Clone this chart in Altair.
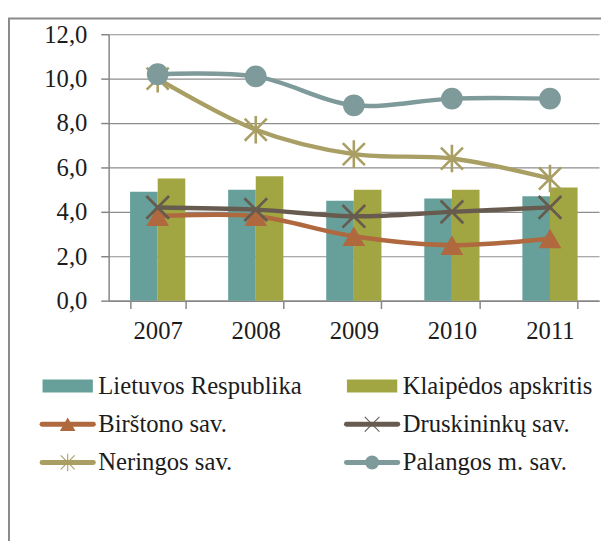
import altair as alt
import pandas as pd

# ---------------- data ----------------
years = ["2007", "2008", "2009", "2010", "2011"]
bar_series = ["Lietuvos Respublika", "Klaipėdos apskritis"]
lietuvos = [4.9, 5.0, 4.5, 4.6, 4.7]
klaipedos = [5.5, 5.6, 5.0, 5.0, 5.1]

line_series = ["Birštono sav.", "Druskininkų sav.", "Neringos sav.", "Palangos m. sav."]
birstono = [3.8, 3.8, 2.9, 2.5, 2.8]
druskininku = [4.2, 4.1, 3.8, 4.0, 4.2]
neringos = [10.0, 7.7, 6.6, 6.4, 5.5]
palangos = [10.2, 10.1, 8.8, 9.1, 9.1]

y_ticks = [0, 2, 4, 6, 8, 10, 12]

all_series = bar_series + line_series
colors = ["#67A09A", "#A2A642", "#B0683F", "#675B4F", "#A99E63", "#7E9A9B"]

FONT = "Liberation Serif"
FS = 25
TEXT = "#1c1c1c"
AXIS_GRAY = "#868686"

bar_df = pd.DataFrame({
    "year": years * 2,
    "series": [bar_series[0]] * 5 + [bar_series[1]] * 5,
    "value": lietuvos + klaipedos,
})
line_values = [birstono, druskininku, neringos, palangos]
line_df = pd.DataFrame({
    "year": years * 4,
    "series": sum([[s] * 5 for s in line_series], []),
    "value": sum(line_values, []),
})
legend_df = pd.DataFrame({
    "series": all_series,
    "col": [i % 2 for i in range(6)],
    "row": [i // 2 for i in range(6)],
    "kind": ["bar", "bar", "line", "line", "line", "line"],
})

color_scale = alt.Scale(domain=all_series, range=colors)
color_enc = alt.Color("series:N", scale=color_scale, legend=None)

x_enc = alt.X(
    "year:N", sort=years,
    scale=alt.Scale(paddingInner=0.437, paddingOuter=0.2185),
    axis=alt.Axis(title=None, labelAngle=0, tickBand="extent", tickSize=8,
                  labelPadding=10, labelFont=FONT, labelFontSize=FS,
                  labelColor=TEXT, domainColor=AXIS_GRAY, tickColor=AXIS_GRAY,
                  domainWidth=1.5, tickWidth=1.5, grid=False),
)
y_enc = alt.Y(
    "value:Q",
    scale=alt.Scale(domain=[0, 12], nice=False, zero=True),
    axis=alt.Axis(title=None, values=y_ticks, tickSize=8, labelPadding=14,
                  labelExpr="replace(format(datum.value, '.1f'), '.', ',')",
                  labelFont=FONT, labelFontSize=FS, labelColor=TEXT,
                  domainColor=AXIS_GRAY, tickColor=AXIS_GRAY, domainWidth=1.5,
                  tickWidth=1.5, grid=True, gridColor="#8E8E8E", gridWidth=1.2),
)

bars = alt.Chart(bar_df).mark_bar().encode(
    x=x_enc,
    xOffset=alt.XOffset("series:N", sort=bar_series,
                        scale=alt.Scale(domain=bar_series, paddingInner=0, paddingOuter=0)),
    y=y_enc,
    color=color_enc,
)

X_PATH = "M-1,-1L1,1M-1,1L1,-1"
STAR_PATH = "M-1,-1L1,1M-1,1L1,-1M0,-1.25L0,1.25"
marker_styles = {
    "Birštono sav.": dict(shape="triangle-up", filled=True, size=530, strokeWidth=0,
                          lsize=250, lstroke=0),
    "Druskininkų sav.": dict(shape=X_PATH, filled=False, size=530, strokeWidth=2.8,
                             lsize=220, lstroke=1.1),
    "Neringos sav.": dict(shape=STAR_PATH, filled=False, size=500, strokeWidth=2.6,
                          lsize=200, lstroke=1.1),
    "Palangos m. sav.": dict(shape="circle", filled=True, size=484, strokeWidth=0,
                             lsize=200, lstroke=0),
}

main_layers = [bars]
for s in line_series:
    st = marker_styles[s]
    base = alt.Chart(line_df).transform_filter(alt.datum.series == s)
    main_layers.append(
        base.mark_line(strokeWidth=4.5, interpolate="catmull-rom", strokeCap="round")
        .encode(x=x_enc, y=y_enc, color=color_enc)
    )
    main_layers.append(
        base.mark_point(shape=st["shape"], filled=st["filled"], size=st["size"],
                        strokeWidth=st["strokeWidth"], opacity=1)
        .encode(x=x_enc, y=y_enc, color=color_enc)
    )
main = alt.layer(*main_layers)

# ---------------- legend (own scales) ----------------
lx = alt.X("col:Q", scale=alt.Scale(domain=[0, 1], range=[-41.5, 267], nice=False, zero=False), axis=None)
lx2 = alt.X2("col:Q")
ly = alt.Y("row:Q", scale=alt.Scale(domain=[0, 2], range=[356.5, 434], nice=False, zero=False), axis=None)
lbase = alt.Chart(legend_df)

leg_layers = [
    lbase.transform_filter(alt.datum.kind == "bar")
    .mark_rule(strokeWidth=13, strokeCap="butt", xOffset=-25.5, x2Offset=25.5)
    .encode(x=lx, x2=lx2, y=ly, color=color_enc),
    lbase.transform_filter(alt.datum.kind == "line")
    .mark_rule(strokeWidth=5, strokeCap="round", xOffset=-26, x2Offset=26)
    .encode(x=lx, x2=lx2, y=ly, color=color_enc),
]
for s in line_series:
    st = marker_styles[s]
    leg_layers.append(
        lbase.transform_filter(alt.datum.series == s)
        .mark_point(shape=st["shape"], filled=st["filled"], size=st["lsize"],
                    strokeWidth=st["lstroke"], opacity=1)
        .encode(x=lx, y=ly, color=color_enc)
    )
leg_layers.append(
    lbase.mark_text(align="left", baseline="alphabetic", dx=31, dy=8,
                    font=FONT, fontSize=FS, color=TEXT)
    .encode(x=lx, y=ly, text="series:N")
)
legend = alt.layer(*leg_layers)

# ---------------- chart-area border ----------------
one = pd.DataFrame({"a": [0]})
border_left = alt.Chart(one).mark_rule(color="#8A8A8A", strokeWidth=2).encode(
    x=alt.value(-101), y=alt.value(-16), y2=alt.value(560))
border_top = alt.Chart(one).mark_rule(color="#8A8A8A", strokeWidth=2).encode(
    x=alt.value(-102), x2=alt.value(520), y=alt.value(-16))

chart = (
    alt.layer(main, legend, border_left, border_top)
    .resolve_scale(x="independent", y="independent")
    .properties(
        width=497, height=270,
        autosize=alt.AutoSizeParams(type="none"),
        padding={"left": 102, "top": 23, "right": 2, "bottom": 240},
    )
    .configure_view(strokeWidth=0)
)

chart.save("out.html", embed_options={"renderer": "svg", "actions": False})
